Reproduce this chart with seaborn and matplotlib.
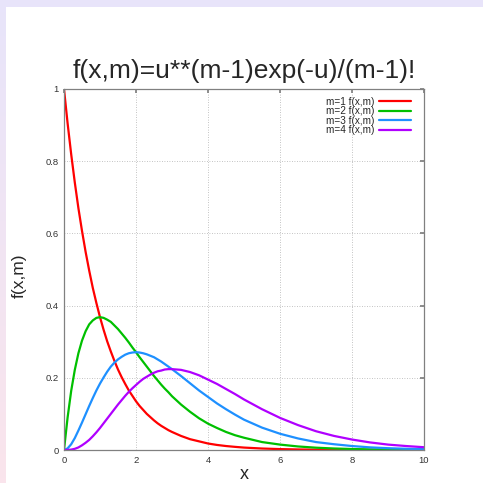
"""Gamma-type density curves f(x,m) for m = 1..4, gnuplot look."""

import matplotlib.pyplot as plt
import numpy as np
import seaborn as sns
from matplotlib.colors import LinearSegmentedColormap

# values
x_vals = [
    0.0, 0.1, 0.2, 0.3, 0.4, 0.5, 0.6, 0.7, 0.8, 0.9, 1.0, 1.1, 1.2, 1.3,
    1.4, 1.5, 1.6, 1.7, 1.8, 1.9, 2.0, 2.1, 2.2, 2.3, 2.4, 2.5, 2.6, 2.7,
    2.8, 2.9, 3.0,
    3.25, 3.5, 3.75, 4.0, 4.25, 4.5, 4.75, 5.0,
    5.5, 6.0, 6.5, 7.0, 7.5, 8.0, 8.5, 9.0, 9.5, 10.0,
]
m1_vals = [
    1.000, 0.905, 0.819, 0.741, 0.670, 0.607, 0.549, 0.497, 0.449, 0.407,
    0.368, 0.333, 0.301, 0.273, 0.247, 0.223, 0.202, 0.183, 0.165, 0.150,
    0.135, 0.122, 0.111, 0.100, 0.091, 0.082, 0.074, 0.067, 0.061, 0.055,
    0.050,
    0.039, 0.030, 0.024, 0.018, 0.014, 0.011, 0.0087, 0.0067,
    0.0041, 0.0025, 0.0015, 0.0009, 0.0006, 0.0003, 0.0002, 0.0001, 0.0001,
    0.0,
]
m2_vals = [
    0.0, 0.090, 0.164, 0.222, 0.268, 0.303, 0.329, 0.348, 0.359, 0.366,
    0.368, 0.366, 0.361, 0.355, 0.345, 0.335, 0.323, 0.311, 0.298, 0.284,
    0.271, 0.257, 0.244, 0.231, 0.218, 0.205, 0.193, 0.181, 0.170, 0.160,
    0.149,
    0.126, 0.106, 0.088, 0.073, 0.061, 0.050, 0.041, 0.034,
    0.022, 0.015, 0.0098, 0.0064, 0.0042, 0.0027, 0.0017, 0.0011, 0.0007,
    0.0005,
]
m3_vals = [
    0.0, 0.0045, 0.016, 0.033, 0.054, 0.076, 0.099, 0.122, 0.144, 0.165,
    0.184, 0.201, 0.217, 0.231, 0.242, 0.251, 0.258, 0.264, 0.268, 0.270,
    0.271, 0.270, 0.268, 0.265, 0.261, 0.257, 0.251, 0.245, 0.238, 0.231,
    0.224,
    0.205, 0.185, 0.165, 0.147, 0.129, 0.113, 0.098, 0.084,
    0.062, 0.045, 0.032, 0.022, 0.016, 0.011, 0.0073, 0.0050, 0.0034,
    0.0023,
]
m4_vals = [
    0.0, 0.0002, 0.0011, 0.0033, 0.0071, 0.013, 0.020, 0.028, 0.038, 0.049,
    0.061, 0.074, 0.087, 0.100, 0.113, 0.126, 0.138, 0.150, 0.161, 0.171,
    0.180, 0.189, 0.197, 0.203, 0.209, 0.214, 0.218, 0.220, 0.223, 0.224,
    0.224,
    0.222, 0.216, 0.207, 0.195, 0.183, 0.169, 0.155, 0.140,
    0.113, 0.089, 0.069, 0.052, 0.039, 0.029, 0.021, 0.015, 0.011,
    0.0077,
]
labels = ["m=1 f(x,m)", "m=2 f(x,m)", "m=3 f(x,m)", "m=4 f(x,m)"]
colors = ["#ff0000", "#00c000", "#1e90ff", "#b000ff"]
x_ticks = [0, 2, 4, 6, 8, 10]
y_ticks = [0, 0.2, 0.4, 0.6, 0.8, 1]
y_tick_labels = ["0", "0.2", "0.4", "0.6", "0.8", "1"]


def main() -> None:
    sns.set_theme(style="white")
    plt.rcParams["font.family"] = ["Liberation Sans", "DejaVu Sans"]

    fig = plt.figure(figsize=(4.83, 4.83), dpi=100)
    fig.patch.set_facecolor("white")

    # lavender frame strips (top and left, fading to pink)
    top = fig.add_axes([0, 1 - 7 / 483, 1, 7 / 483])
    top.axis("off")
    top.add_patch(plt.Rectangle((0, 0), 1, 1, color="#e8e4fa",
                                transform=top.transAxes))
    left = fig.add_axes([0, 0, 6 / 483, 1 - 7 / 483])
    left.axis("off")
    grad = np.linspace(0, 1, 100).reshape(-1, 1)
    cmap = LinearSegmentedColormap.from_list("band", ["#e8e4fa", "#fae4ec"])
    left.imshow(grad, aspect="auto", cmap=cmap, extent=[0, 1, 0, 1])

    ax = fig.add_axes([64 / 483, 33 / 483, 360 / 483, 361 / 483])
    series = [m1_vals, m2_vals, m3_vals, m4_vals]
    for vals, lab, col in zip(series, labels, colors):
        sns.lineplot(x=x_vals, y=vals, ax=ax, color=col, label=lab,
                     linewidth=1.6)

    ax.set_xlim(0, 10)
    ax.set_ylim(0, 1)
    ax.set_xticks(x_ticks)
    ax.set_xticklabels([str(t) for t in x_ticks])
    ax.set_yticks(y_ticks)
    ax.set_yticklabels(y_tick_labels)
    ax.tick_params(labelsize=6.8, colors="#333333", length=3,
                   direction="in", top=True, right=True, pad=4,
                   color="#808080")
    ax.grid(True, linestyle=(0, (1, 2)), color="#b0b0b0", linewidth=0.6)
    for spine in ax.spines.values():
        spine.set_color("#808080")
        spine.set_linewidth(0.9)

    ax.set_title("f(x,m)=u**(m-1)exp(-u)/(m-1)!", fontsize=19, pad=8)
    ax.set_xlabel("x", fontsize=13, labelpad=1)
    ax.set_ylabel("f(x,m)", fontsize=12.5)
    ax.yaxis.set_label_coords(-0.103, 0.482)

    ax.legend(loc="upper right", bbox_to_anchor=(0.975, 0.99),
              borderaxespad=0, frameon=False, fontsize=7.2,
              markerfirst=False, handlelength=3.2, handletextpad=0.45,
              labelspacing=-0.05)

    fig.savefig("out.png", dpi=100)


if __name__ == "__main__":
    main()
